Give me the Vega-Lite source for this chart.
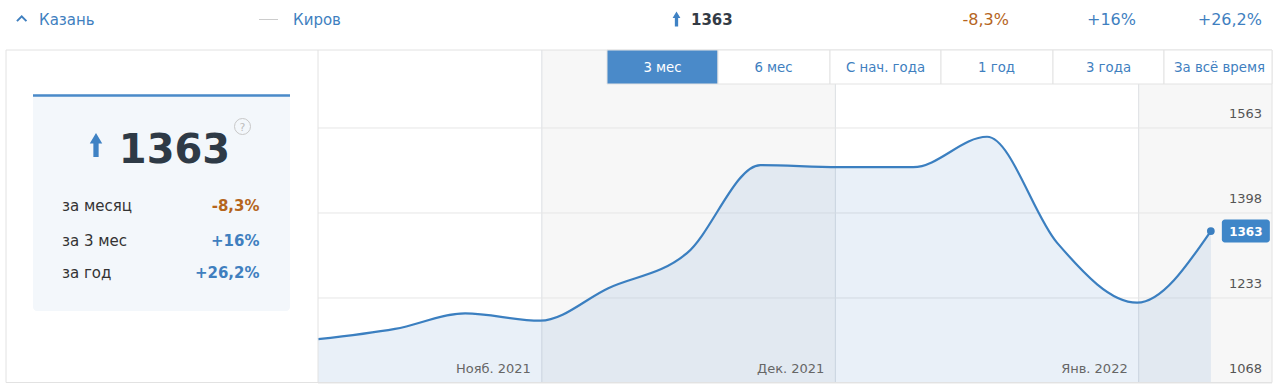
{
  "$schema": "https://vega.github.io/schema/vega-lite/v6.json",
  "width": 1280,
  "height": 386,
  "padding": 0,
  "autosize": "none",
  "background": "white",
  "config": {"view": {"stroke": null}, "font": "DejaVu Sans", "text": {"font": "DejaVu Sans"}},
  "datasets": {
    "series": [
      {"date": "2021-10-09T03:00:00Z", "value": 1153},
      {"date": "2021-10-17T00:00:00Z", "value": 1173},
      {"date": "2021-10-24T04:00:00Z", "value": 1203},
      {"date": "2021-10-31T20:00:00Z", "value": 1189},
      {"date": "2021-11-07T19:00:00Z", "value": 1252},
      {"date": "2021-11-15T20:00:00Z", "value": 1320},
      {"date": "2021-11-23T08:00:00Z", "value": 1491},
      {"date": "2021-12-01T07:00:00Z", "value": 1487},
      {"date": "2021-12-08T23:00:00Z", "value": 1487},
      {"date": "2021-12-16T12:00:00Z", "value": 1546},
      {"date": "2021-12-23T16:00:00Z", "value": 1340},
      {"date": "2021-12-31T20:00:00Z", "value": 1224},
      {"date": "2022-01-08T09:00:00Z", "value": 1363}
    ],
    "last": [{"date": "2022-01-08T09:00:00Z", "value": 1363}],
    "months": [
      {"m": "2021-11-01T00:00:00Z", "label": "Нояб. 2021"},
      {"m": "2021-12-01T00:00:00Z", "label": "Дек. 2021"},
      {"m": "2022-01-01T00:00:00Z", "label": "Янв. 2022"}
    ],
    "bands": [
      {"s": "2021-11-01T00:00:00Z", "e": "2021-12-01T00:00:00Z"},
      {"s": "2022-01-01T00:00:00Z", "e": "2022-01-14T15:00:00Z"}
    ],
    "ticks": [{"v": 1068}, {"v": 1233}, {"v": 1398}, {"v": 1563}],
    "buttons": [
      {"label": "3 мес", "sel": true, "x": 607, "x2": 718},
      {"label": "6 мес", "sel": false, "x": 718, "x2": 830},
      {"label": "С нач. года", "sel": false, "x": 830, "x2": 941},
      {"label": "1 год", "sel": false, "x": 941, "x2": 1053},
      {"label": "3 года", "sel": false, "x": 1053, "x2": 1164},
      {"label": "За всё время", "sel": false, "x": 1164, "x2": 1272}
    ],
    "rows": [
      {"label": "за месяц", "change": "-8,3%", "dir": "down", "y": 211},
      {"label": "за 3 мес", "change": "+16%", "dir": "up", "y": 245.5},
      {"label": "за год", "change": "+26,2%", "dir": "up", "y": 278}
    ],
    "headerChanges": [
      {"change": "-8,3%", "dir": "down", "x": 1009},
      {"change": "+16%", "dir": "up", "x": 1136},
      {"change": "+26,2%", "dir": "up", "x": 1262}
    ],
    "headerNames": [
      {"name": "Казань", "x": 39},
      {"name": "Киров", "x": 293}
    ]
  },
  "resolve": {"scale": {"x": "independent", "y": "independent"}},
  "layer": [
    {
      "layer": [
        {
          "data": {"name": "bands"},
          "mark": {"type": "rect", "fill": "#f7f7f7"},
          "encoding": {
            "x": {"field": "s", "type": "temporal", "axis": null, "scale": {"type": "utc", "domain": [{"year": 2021, "month": 10, "date": 9, "hours": 3, "utc": true}, {"year": 2022, "month": 1, "date": 14, "hours": 15, "utc": true}], "range": [318, 1272]}},
            "x2": {"field": "e"},
            "y": {"datum": 1068, "type": "quantitative", "axis": null, "scale": {"domain": [1068, 1714.4], "range": [383, 50], "zero": false, "nice": false}},
            "y2": {"datum": 1714.4}
          }
        },
        {
          "data": {"name": "months"},
          "mark": {"type": "rule", "color": "#dcdfe3", "strokeWidth": 1},
          "encoding": {
            "x": {"field": "m", "type": "temporal", "axis": null},
            "y": {"datum": 1068, "type": "quantitative", "axis": null},
            "y2": {"datum": 1714.4}
          }
        },
        {
          "data": {"name": "ticks"},
          "mark": {"type": "rule", "color": "#e6e6e6", "strokeWidth": 1},
          "encoding": {
            "x": {"datum": {"year": 2021, "month": 10, "date": 9, "hours": 3, "utc": true}, "type": "temporal", "axis": null},
            "x2": {"datum": {"year": 2022, "month": 1, "date": 14, "hours": 15, "utc": true}},
            "y": {"field": "v", "type": "quantitative", "axis": null}
          }
        },
        {
          "data": {"name": "series"},
          "mark": {"type": "area", "interpolate": "monotone", "fill": "#4a86c5", "fillOpacity": 0.12},
          "encoding": {
            "x": {"field": "date", "type": "temporal", "axis": null},
            "y": {"field": "value", "type": "quantitative", "axis": null},
            "y2": {"datum": 1068}
          }
        },
        {
          "data": {"name": "series"},
          "mark": {"type": "line", "interpolate": "monotone", "color": "#3b7fc0", "strokeWidth": 2.2},
          "encoding": {
            "x": {"field": "date", "type": "temporal", "axis": null},
            "y": {"field": "value", "type": "quantitative", "axis": null}
          }
        },
        {
          "data": {"name": "last"},
          "mark": {"type": "point", "filled": true, "size": 60, "color": "#3b7fc0", "opacity": 1},
          "encoding": {
            "x": {"field": "date", "type": "temporal", "axis": null},
            "y": {"field": "value", "type": "quantitative", "axis": null}
          }
        },
        {
          "data": {"name": "ticks"},
          "mark": {"type": "text", "align": "right", "baseline": "alphabetic", "dx": -10, "dy": -10, "fontSize": 13, "color": "#555555"},
          "encoding": {
            "x": {"datum": {"year": 2022, "month": 1, "date": 14, "hours": 15, "utc": true}, "type": "temporal", "axis": null},
            "y": {"field": "v", "type": "quantitative", "axis": null},
            "text": {"field": "v", "type": "quantitative", "format": "d"}
          }
        },
        {
          "data": {"name": "months"},
          "mark": {"type": "text", "align": "right", "baseline": "alphabetic", "dx": -11, "dy": -10, "fontSize": 13, "color": "#666666"},
          "encoding": {
            "x": {"field": "m", "type": "temporal", "axis": null},
            "y": {"datum": 1068, "type": "quantitative", "axis": null},
            "text": {"field": "label", "type": "nominal"}
          }
        },
        {
          "data": {"name": "last"},
          "mark": {"type": "rect", "fill": "#3f86c8", "cornerRadius": 3, "xOffset": 11, "x2Offset": 59, "yOffset": -11.5, "y2Offset": 11.5},
          "encoding": {
            "x": {"field": "date", "type": "temporal", "axis": null},
            "x2": {"field": "date"},
            "y": {"field": "value", "type": "quantitative", "axis": null},
            "y2": {"field": "value"}
          }
        },
        {
          "data": {"name": "last"},
          "mark": {"type": "text", "align": "center", "baseline": "middle", "dx": 35, "dy": 0.5, "fontSize": 12, "fontWeight": "bold", "color": "white"},
          "encoding": {
            "x": {"field": "date", "type": "temporal", "axis": null},
            "y": {"field": "value", "type": "quantitative", "axis": null},
            "text": {"field": "value", "type": "quantitative", "format": "d"}
          }
        }
      ]
    },
    {
      "layer": [
        {
          "data": {"values": [{"x": 6, "x2": 1272, "y": 50, "y2": 382.5}]},
          "mark": {"type": "rect", "fill": null, "stroke": "#e2e2e2", "strokeWidth": 1},
          "encoding": {
            "x": {"field": "x", "type": "quantitative", "axis": null, "scale": {"domain": [0, 1280], "range": [0, 1280], "zero": false, "nice": false}},
            "x2": {"field": "x2"},
            "y": {"field": "y", "type": "quantitative", "axis": null, "scale": {"domain": [0, 386], "range": [0, 386], "zero": false, "nice": false}},
            "y2": {"field": "y2"}
          }
        },
        {
          "data": {"values": [{"x": 318, "y": 50, "y2": 382.5}]},
          "mark": {"type": "rule", "color": "#e2e2e2", "strokeWidth": 1},
          "encoding": {
            "x": {"field": "x", "type": "quantitative", "axis": null},
            "y": {"field": "y", "type": "quantitative", "axis": null},
            "y2": {"field": "y2"}
          }
        },
        {
          "data": {"name": "buttons"},
          "mark": {"type": "rect", "stroke": "#e3e3e3", "strokeWidth": 1},
          "encoding": {
            "x": {"field": "x", "type": "quantitative", "axis": null},
            "x2": {"field": "x2"},
            "y": {"datum": 50, "type": "quantitative", "axis": null},
            "y2": {"datum": 84},
            "fill": {"condition": {"test": "datum.sel", "value": "#4a8ac9"}, "value": "white"}
          }
        },
        {
          "data": {"name": "buttons"},
          "mark": {"type": "text", "align": "center", "baseline": "alphabetic", "dx": 55.5, "fontSize": 13.3},
          "encoding": {
            "x": {"field": "x", "type": "quantitative", "axis": null},
            "y": {"datum": 71.5, "type": "quantitative", "axis": null},
            "text": {"field": "label", "type": "nominal"},
            "color": {"condition": {"test": "datum.sel", "value": "white"}, "value": "#3f7fbf"}
          }
        },
        {
          "data": {"values": [{"x": 33, "x2": 290, "y": 94, "y2": 311}]},
          "mark": {"type": "rect", "fill": "#f3f7fb", "cornerRadius": 4},
          "encoding": {
            "x": {"field": "x", "type": "quantitative", "axis": null},
            "x2": {"field": "x2"},
            "y": {"field": "y", "type": "quantitative", "axis": null},
            "y2": {"field": "y2"}
          }
        },
        {
          "data": {"values": [{"x": 33, "x2": 290, "y": 95.5}]},
          "mark": {"type": "rule", "color": "#4a8ac9", "strokeWidth": 2.5},
          "encoding": {
            "x": {"field": "x", "type": "quantitative", "axis": null},
            "x2": {"field": "x2"},
            "y": {"field": "y", "type": "quantitative", "axis": null}
          }
        },
        {
          "data": {"values": [{"x": 96, "y": 145, "s": 576}, {"x": 676.5, "y": 19, "s": 225}]},
          "mark": {"type": "point", "shape": "M0,-1L0.52,-0.12L0.22,-0.12L0.22,1L-0.22,1L-0.22,-0.12L-0.52,-0.12Z", "filled": true, "color": "#3f82c4", "opacity": 1},
          "encoding": {
            "x": {"field": "x", "type": "quantitative", "axis": null},
            "y": {"field": "y", "type": "quantitative", "axis": null},
            "size": {"field": "s", "type": "quantitative", "scale": null, "legend": null}
          }
        },
        {
          "data": {"values": [{"x": 21.7, "y": 18.5}]},
          "mark": {"type": "point", "shape": "M-1,0.55L0,-0.45L1,0.55", "filled": false, "size": 90, "strokeWidth": 2, "color": "#3f7fbf", "opacity": 1},
          "encoding": {
            "x": {"field": "x", "type": "quantitative", "axis": null},
            "y": {"field": "y", "type": "quantitative", "axis": null}
          }
        },
        {
          "data": {"values": [{"x": 259, "x2": 278, "y": 19.5}]},
          "mark": {"type": "rule", "color": "#cccccc", "strokeWidth": 1},
          "encoding": {
            "x": {"field": "x", "type": "quantitative", "axis": null},
            "x2": {"field": "x2"},
            "y": {"field": "y", "type": "quantitative", "axis": null}
          }
        },
        {
          "data": {"values": [{"x": 242.5, "y": 126.5}]},
          "mark": {"type": "point", "shape": "circle", "filled": false, "size": 256, "strokeWidth": 1, "color": "#c8c8c8", "opacity": 1},
          "encoding": {
            "x": {"field": "x", "type": "quantitative", "axis": null},
            "y": {"field": "y", "type": "quantitative", "axis": null}
          }
        },
        {
          "data": {"values": [{"t": "?", "x": 242.5, "y": 130.5}]},
          "mark": {"type": "text", "align": "center", "baseline": "alphabetic", "fontSize": 11, "color": "#bdbdbd"},
          "encoding": {
            "x": {"field": "x", "type": "quantitative", "axis": null},
            "y": {"field": "y", "type": "quantitative", "axis": null},
            "text": {"field": "t", "type": "nominal"}
          }
        },
        {
          "data": {"values": [{"t": "1363", "x": 174.5, "y": 163}]},
          "mark": {"type": "text", "align": "center", "baseline": "alphabetic", "fontSize": 40, "fontWeight": "bold", "color": "#2e3a46"},
          "encoding": {
            "x": {"field": "x", "type": "quantitative", "axis": null},
            "y": {"field": "y", "type": "quantitative", "axis": null},
            "text": {"field": "t", "type": "nominal"}
          }
        },
        {
          "data": {"name": "rows"},
          "mark": {"type": "text", "align": "left", "baseline": "alphabetic", "fontSize": 15, "color": "#333333"},
          "encoding": {
            "x": {"datum": 62, "type": "quantitative", "axis": null},
            "y": {"field": "y", "type": "quantitative", "axis": null},
            "text": {"field": "label", "type": "nominal"}
          }
        },
        {
          "data": {"name": "rows"},
          "mark": {"type": "text", "align": "right", "baseline": "alphabetic", "fontSize": 15, "fontWeight": "bold"},
          "encoding": {
            "x": {"datum": 259.5, "type": "quantitative", "axis": null},
            "y": {"field": "y", "type": "quantitative", "axis": null},
            "text": {"field": "change", "type": "nominal"},
            "color": {"condition": {"test": "datum.dir == 'down'", "value": "#b5651d"}, "value": "#3f7fbf"}
          }
        },
        {
          "data": {"name": "headerNames"},
          "mark": {"type": "text", "align": "left", "baseline": "alphabetic", "fontSize": 15, "color": "#3f7fbf"},
          "encoding": {
            "x": {"field": "x", "type": "quantitative", "axis": null},
            "y": {"datum": 24.5, "type": "quantitative", "axis": null},
            "text": {"field": "name", "type": "nominal"}
          }
        },
        {
          "data": {"values": [{"t": "1363", "x": 691}]},
          "mark": {"type": "text", "align": "left", "baseline": "alphabetic", "fontSize": 15, "fontWeight": "bold", "color": "#333b45"},
          "encoding": {
            "x": {"field": "x", "type": "quantitative", "axis": null},
            "y": {"datum": 24.5, "type": "quantitative", "axis": null},
            "text": {"field": "t", "type": "nominal"}
          }
        },
        {
          "data": {"name": "headerChanges"},
          "mark": {"type": "text", "align": "right", "baseline": "alphabetic", "fontSize": 16},
          "encoding": {
            "x": {"field": "x", "type": "quantitative", "axis": null},
            "y": {"datum": 25, "type": "quantitative", "axis": null},
            "text": {"field": "change", "type": "nominal"},
            "color": {"condition": {"test": "datum.dir == 'down'", "value": "#b5651d"}, "value": "#3f7fbf"}
          }
        }
      ]
    }
  ]
}
